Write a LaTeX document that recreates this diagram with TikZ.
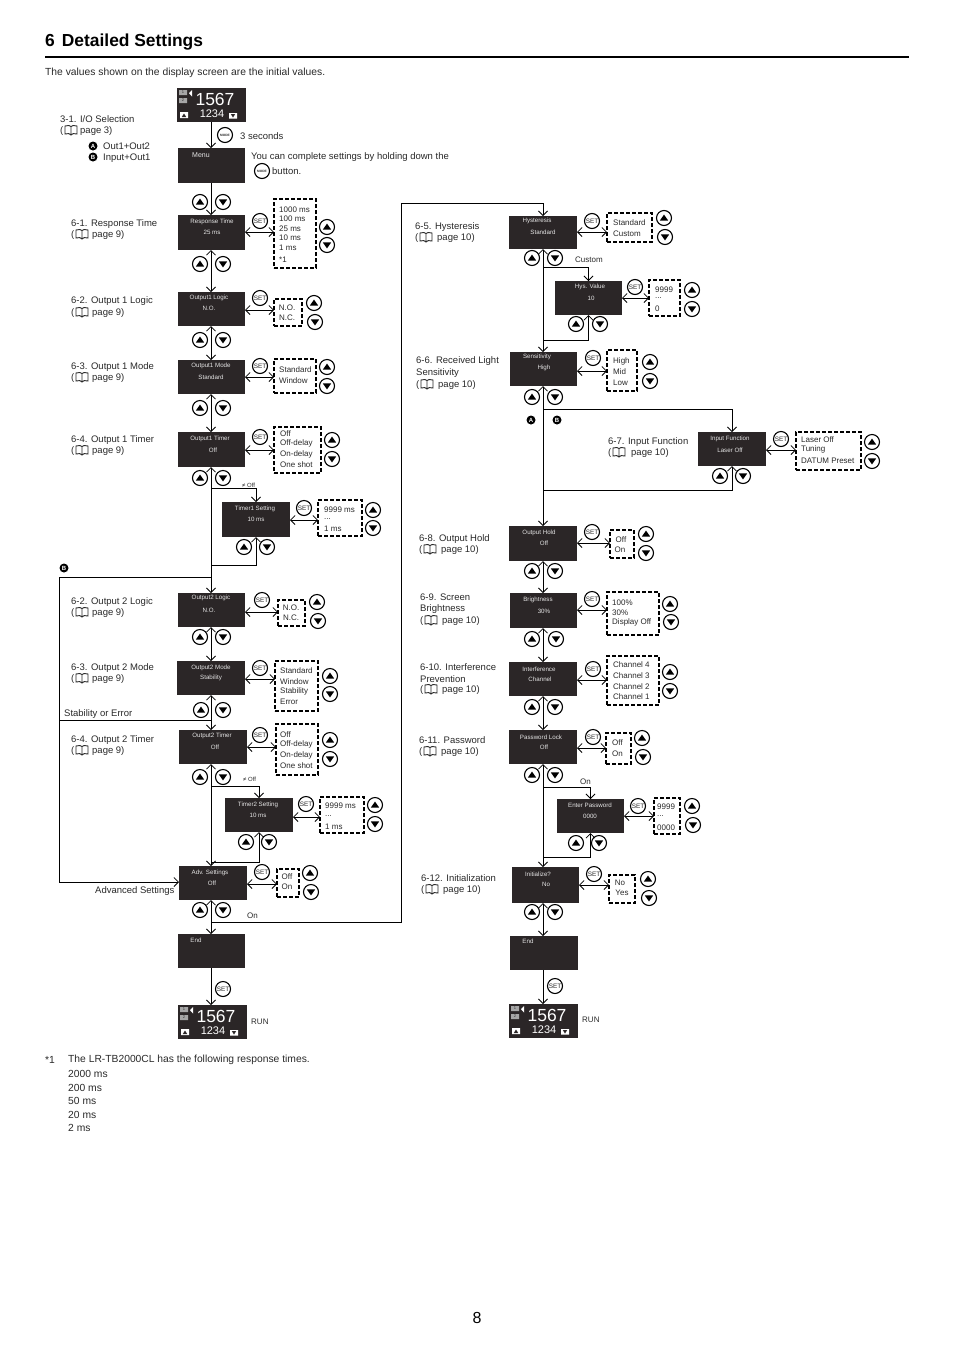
\documentclass[tikz,border=0pt]{standalone}
\usepackage{fontspec}
\setmainfont{Liberation Sans}
\usetikzlibrary{arrows.meta}
\definecolor{scrn}{HTML}{2B2627}
\definecolor{ink}{HTML}{2A2A2A}
\tikzset{
 screenbox/.style={fill=scrn,inner sep=0,outer sep=0},
 scrtxt/.style={text=white!90!black,font=\fontsize{6.2}{7}\selectfont,inner sep=0},
 lab/.style={anchor=west,inner sep=0,yshift=-.7pt,text=ink,font=\fontsize{9.5}{10}\selectfont},
 para/.style={anchor=west,inner sep=0,yshift=-.7pt,text=ink,font=\fontsize{10.3}{11}\selectfont},
 optt/.style={anchor=west,inner sep=0,yshift=-.5pt,text=ink,font=\fontsize{8}{9}\selectfont},
 optc/.style={anchor=center,inner sep=0,yshift=-.5pt,text=ink,font=\fontsize{8}{9}\selectfont},
 optbox/.style={draw=black,line width=1.2pt,dash pattern=on 4pt off 2pt,inner sep=0,outer sep=0},
 roundbtn/.style={circle,draw=black,line width=1.1pt,fill=white,minimum size=15pt,inner sep=0,text=ink,font=\fontsize{6.4}{7}\selectfont},
 modebtn/.style={roundbtn,font=\fontsize{3.2}{4}\selectfont\bfseries},
 arrowbtn/.style={roundbtn},
 conn/.style={draw=black,line width=.75pt},
 arr/.style={conn,-{Straight Barb[length=4.5pt,width=9pt]}},
 dbl/.style={conn,{Straight Barb[length=4.5pt,width=9pt]}-{Straight Barb[length=4.5pt,width=9pt]}},
 arb/.style={conn,{Straight Barb[length=4.5pt,width=9pt]}-},
 badge/.style={circle,fill=black,minimum size=9pt,inner sep=0,text=white,font=\fontsize{6}{6}\selectfont\bfseries}
}
\newcount\nn
\newcommand\tdots{.\kern0pt.\kern0pt.}
\newcommand\tl[3]{\global\advance\nn by 1 \node[lab] (t\the\nn) at (#1,#2) {#3};}
\newcommand\tp[3]{\global\advance\nn by 1 \node[para] (t\the\nn) at (#1,#2) {#3};}
\newcommand\tloc[3]{\global\advance\nn by 1 \node[optc] (t\the\nn) at (#1,#2) {#3};}
\newcommand\oline[3]{\global\advance\nn by 1 \node[optt] (t\the\nn) at (#1,#2) {#3};}
\newcommand\ot[2]{\foreach \yy/\tx in {#2}{\oline{#1}{\yy}{\tx}}}
% screen: name x1 y1 x2 y2 title tx ty value-coordinate
\newcommand\scr[9]{\node[screenbox,minimum width={(#4-#2)*1pt},minimum height={(#5-#3)*1pt}] (#1) at ({(#2+#4)/2},{(#3+#5)/2}) {};
 \node[scrtxt] (#1-t) at (#7,#8) {#6};
 \scrval{#1}{#9}}
\newcommand\scrval[2]{\node[scrtxt] (#1-v) at (#2) {\currval};}
\newcommand\setval[1]{\def\currval{#1}}
\newcommand\optbx[5]{\node[optbox,minimum width={(#4-#2)*1pt},minimum height={(#5-#3)*1pt}] (#1) at ({(#2+#4)/2},{(#3+#5)/2}) {};}
\newcommand\setb[3]{\node[roundbtn] (#1) at (#2,#3) {SET};}
\newcommand\modeb[3]{\node[modebtn] (#1) at (#2,#3) {MODE};}
\newcommand\upb[2]{\global\advance\nn by 1 \node[arrowbtn] (u\the\nn) at (#1,#2) {};
 \fill[black,shift={(#1,#2)}] (-4.2,2.6)--(4.2,2.6)--(0,-3.4)--cycle;}
\newcommand\dnb[2]{\global\advance\nn by 1 \node[arrowbtn] (d\the\nn) at (#1,#2) {};
 \fill[black,shift={(#1,#2)}] (-4.2,-2.6)--(4.2,-2.6)--(0,3.4)--cycle;}
\newcommand\ud[4]{\upb{#1}{#2}\dnb{#3}{#4}}
\newcommand\bookic[2]{\draw[ink,line width=.9pt,fill=white,shift={(#1,#2)}] (-6,-4)--(-6,4) .. controls (-3,3) and (-1,3.5) .. (0,5) .. controls (1,3.5) and (3,3) .. (6,4)--(6,-4) .. controls (3,-5) and (1,-4.5) .. (0,-3.5) .. controls (-1,-4.5) and (-3,-5) .. (-6,-4)--cycle (0,-3.5)--(0,5);}
% page reference line: x y text offset
\newcommand\pgl[4]{\tl{#1}{#2}{(}\bookic{#1+11}{#2}\tl{#1+#4}{#2}{#3}}
\newcommand\disp[3]{\node[screenbox,minimum width=68.5pt,minimum height=34pt] (#1) at ({#2+34.25},{#3+17}) {};
 \fill[black!35,shift={(#2,#3)}] (2,2)rectangle(10,7) (2,10)rectangle(10,15);
 \node[inner sep=0,text=black!80,font=\fontsize{4}{4}\selectfont] (#1-a) at ({#2+6},{#3+4.5}) {1};
 \node[inner sep=0,text=black!80,font=\fontsize{4}{4}\selectfont] (#1-b) at ({#2+6},{#3+12.5}) {2};
 \fill[white,shift={(#2,#3)}] (15,2)--(15,8.5)--(12,5.2)--cycle;
 \fill[white,shift={(#2,#3)}] (3,24)rectangle(11,30) (52,25)rectangle(60,30.5);
 \fill[scrn,shift={(#2,#3)}] (4.8,29)--(9.2,29)--(7,25.5)--cycle (53.8,26)--(58.2,26)--(56,29.5)--cycle;
 \node[inner sep=0,text=white,font=\fontsize{17.5}{18}\selectfont] (#1-c) at ({#2+38},{#3+11}) {1567};
 \node[inner sep=0,text=white,font=\fontsize{11}{11}\selectfont] (#1-d) at ({#2+35},{#3+25.5}) {1234};}
\newcommand\conR[4]{\draw[dbl] (#1.east |- 0,#3) -- (#2.west |- 0,#3);}
\begin{document}
\begin{tikzpicture}[x=1pt,y=-1pt]
\useasboundingbox (0,0) rectangle (954,1350);
\fill[white] (0,0) rectangle (954,1350);
\coordinate (L) at (211,0);
\coordinate (R) at (543,0);
% header
\node[anchor=west,inner sep=0,font=\fontsize{17.4}{18}\selectfont\bfseries] (head) at (45,42.5) {6\hspace{7pt}Detailed Settings};
\coordinate (ruleA) at (45,57); \coordinate (ruleB) at (909,57);
\draw[line width=1.4pt] (ruleA)--(ruleB);
\tp{45}{72}{The values shown on the display screen are the initial values.}
\node[inner sep=0,font=\fontsize{16}{18}\selectfont] (pg) at (477,1318) {8};
% ---- left top
\disp{d1}{177}{88}
\modeb{m1}{225}{135}
\tl{240}{135}{3 seconds}
\setval{} \scr{menu}{178}{148}{245}{183}{\fontsize{7}{8}\selectfont Menu}{201}{155}{201,155}
\tl{251}{156}{You can complete settings by holding down the}
\modeb{m2}{262}{171}
\tl{272}{170}{button.}
\tl{60}{118}{3-1. I/O Selection}
\pgl{60}{130}{page 3)}{20}
\node[badge] (ba1) at (93,146) {A}; \tl{103}{146}{Out1+Out2}
\node[badge] (bb1) at (93,157) {B}; \tl{103}{157}{Input+Out1}
\ud{200}{202}{223}{202}
% 6-1
\setval{25 ms}\scr{rt}{178}{215}{245}{250}{Response Time}{212}{222}{212,232}
\setb{s1}{260}{221}
\optbx{o1}{274}{199}{316}{268}
\ot{279}{209/1000 ms,218/100 ms,228/25 ms,237/10 ms,247/1 ms,259/*1}
\ud{327}{227}{327}{245}
\tl{71}{223}{6-1. Response Time}\pgl{71}{234}{page 9)}{21}
\conR{rt}{o1}{232}{}
\ud{200}{264}{223}{264}
% 6-2
\setval{N.O.}\scr{ol1}{178}{292}{245}{326}{Output1 Logic}{209}{298}{209,308}
\setb{s2}{260}{298}
\optbx{o2}{274}{299}{302}{326}
\tloc{287}{307}{N.O.}\tloc{287}{317}{N.C.}
\ud{314}{303}{315}{322}
\tl{71}{300}{6-2. Output 1 Logic}\pgl{71}{312}{page 9)}{21}
\conR{ol1}{o2}{310}{}
\ud{200}{340}{223}{340}
% 6-3
\setval{Standard}\scr{om1}{178}{360}{245}{394}{Output1 Mode}{211}{366}{211,377}
\setb{s3}{260}{366}
\optbx{o3}{274}{359}{316}{393}
\ot{279}{369/Standard,380/Window}
\ud{327}{367}{327}{386}
\tl{71}{366}{6-3. Output 1 Mode}\pgl{71}{377}{page 9)}{21}
\conR{om1}{o3}{377}{}
\ud{200}{408}{223}{408}
% 6-4
\setval{Off}\scr{ot1}{178}{432}{245}{467}{Output1 Timer}{210}{439}{213,450}
\setb{s4}{260}{437}
\optbx{o4}{274}{427}{321}{473}
\ot{280}{433/Off,443/Off-delay,454/On-delay,464/One shot}
\ud{332}{440}{332}{459}
\tl{71}{439}{6-4. Output 1 Timer}\pgl{71}{450}{page 9)}{21}
\conR{ot1}{o4}{450}{}
\ud{200}{478}{223}{478}
\node[optt,font=\fontsize{6}{6}\selectfont] (ne1) at (242,485) {≠ Off};
% timer1
\setval{10 ms}\scr{tm1}{222}{502}{290}{537}{Timer1 Setting}{255}{509}{256,519}
\setb{s5}{304}{508}
\optbx{o5}{318}{500}{362}{536}
\ot{324}{509/9999 ms,519/\tdots,528/1 ms}
\ud{373}{510}{373}{528}
\conR{tm1}{o5}{520}{}
\ud{244}{547}{267}{547}
% out2 logic
\setval{N.O.}\scr{ol2}{178}{593}{245}{627}{Output2 Logic}{211}{598}{209,610}
\setb{s6}{262}{600}
\optbx{o6}{278}{600}{305}{626}
\tloc{291}{607}{N.O.}\tloc{291}{617}{N.C.}
\ud{317}{602}{318}{621}
\tl{71}{601}{6-2. Output 2 Logic}\pgl{71}{612}{page 9)}{21}
\conR{ol2}{o6}{612}{}
\node[badge] (bb2) at (64,568) {B};
\ud{200}{637}{223}{637}
% out2 mode
\setval{Stability}\scr{om2}{177}{661}{245}{695}{Output2 Mode}{211}{668}{211,678}
\setb{s7}{260}{668}
\optbx{o7}{275}{661}{318}{711}
\ot{280}{670/Standard,681/Window,691/Stability,701/Error}
\ud{330}{676}{330}{694}
\tl{71}{667}{6-3. Output 2 Mode}\pgl{71}{678}{page 9)}{21}
\conR{om2}{o7}{679}{}
\ud{201}{710}{223}{710}
\tl{64}{713}{Stability or Error}
% out2 timer
\setval{Off}\scr{ot2}{179}{730}{247}{764}{Output2 Timer}{212}{736}{215,747}
\setb{s8}{260}{735}
\optbx{o8}{276}{724}{318}{775}
\ot{280}{734/Off,744/Off-delay,755/On-delay,765/One shot}
\ud{330}{740}{330}{759}
\tl{71}{739}{6-4. Output 2 Timer}\pgl{71}{750}{page 9)}{21}
\conR{ot2}{o8}{747}{}
\ud{200}{777}{223}{777}
\node[optt,font=\fontsize{6}{6}\selectfont] (ne2) at (243,779) {≠ Off};
% timer2
\setval{10 ms}\scr{tm2}{225}{798}{293}{832}{Timer2 Setting}{258}{805}{258,815}
\setb{s9}{306}{804}
\optbx{o9}{320}{797}{364}{833}
\ot{325}{805/9999 ms,816/\tdots,826/1 ms}
\ud{375}{805}{375}{824}
\conR{tm2}{o9}{817}{}
\ud{246}{842}{269}{842}
% adv
\setval{Off}\scr{adv}{179}{866}{247}{900}{Adv. Settings}{210}{873}{212,883}
\setb{s10}{262}{872}
\optbx{o10}{277}{869}{299}{897}
\tloc{287}{876}{Off}\tloc{287}{886}{On}
\ud{310}{873}{311}{892}
\conR{adv}{o10}{884}{}
\tl{95}{890}{Advanced Settings}
\ud{200}{910}{223}{910}
\oline{247}{915}{On}
% end
\setval{}\scr{end1}{178}{934}{245}{968}{End}{196}{940}{196,940}
\setb{s11}{223}{989}
\disp{d2}{178}{1005}
\oline{251}{1021}{RUN}
% footnote
\tp{45}{1059}{*1}
\tp{68}{1059}{The LR-TB2000CL has the following response times.}
\tp{68}{1073}{2000 ms}\tp{68}{1087}{200 ms}\tp{68}{1100}{50 ms}\tp{68}{1114}{20 ms}\tp{68}{1127}{2 ms}
% ---- right column
\setval{Standard}\scr{hy}{509}{216}{577}{249}{Hysteresis}{537}{221}{543,232}
\setb{r1}{592}{221}
\optbx{p1}{607}{213}{652}{242}
\ot{613}{222/Standard,233/Custom}
\ud{664}{218}{665}{237}
\tl{415}{226}{6-5. Hysteresis}\pgl{415}{237}{page 10)}{22}
\conR{hy}{p1}{232}{}
\ud{532}{258}{555}{258}
\oline{575}{259}{Custom}
\setval{10}\scr{hv}{555}{281}{622}{315}{Hys. Value}{590}{287}{591,298}
\setb{r2}{635}{287}
\optbx{p2}{649}{280}{680}{316}
\ot{655}{289/9999,298/\tdots,308/0}
\ud{692}{290}{692}{309}
\conR{hv}{p2}{298}{}
\ud{576}{324}{600}{324}
\setval{High}\scr{sn}{510}{352}{577}{386}{Sensitivity}{537}{357}{544,368}
\setb{r3}{593}{358}
\optbx{p3}{607}{350}{637}{391}
\ot{613}{361/High,371/Mid,382/Low}
\ud{650}{362}{650}{381}
\tl{416}{360}{6-6. Received Light}\tl{416}{372}{Sensitivity}\pgl{416}{384}{page 10)}{22}
\conR{sn}{p3}{371}{}
\ud{532}{397}{555}{397}
\node[badge] (ba2) at (531,420) {A};
\node[badge] (bb3) at (557,420) {B};
\setval{Laser Off}\scr{inf}{698}{432}{766}{466}{Input Function}{730}{439}{730,450}
\setb{r4}{781}{439}
\optbx{p4}{796}{432}{861}{470}
\ot{801}{439/Laser Off,449/Tuning,460/DATUM Preset}
\ud{872}{442}{872}{461}
\tl{608}{441}{6-7. Input Function}\pgl{608}{452}{page 10)}{23}
\conR{inf}{p4}{450}{}
\ud{720}{476}{743}{476}
\setval{Off}\scr{oh}{509}{526}{577}{561}{Output Hold}{539}{533}{544,543}
\setb{r5}{592}{532}
\optbx{p5}{610}{530}{634}{558}
\tloc{621}{539}{Off}\tloc{620}{549}{On}
\ud{646}{534}{646}{553}
\tl{419}{538}{6-8. Output Hold}\pgl{419}{549}{page 10)}{22}
\conR{oh}{p5}{543}{}
\ud{532}{571}{555}{571}
\setval{30\%}\scr{br}{510}{593}{577}{628}{Brightness}{538}{600}{544,611}
\setb{r6}{592}{599}
\optbx{p6}{607}{592}{659}{635}
\ot{612}{602/100\%,612/30\%,622/Display Off}
\ud{670}{604}{671}{622}
\tl{420}{597}{6-9. Screen}\tl{420}{608}{Brightness}\pgl{420}{620}{page 10)}{22}
\conR{br}{p6}{610}{}
\ud{532}{639}{556}{639}
\setval{Channel}\scr{itf}{509}{662}{577}{696}{Interference}{539}{669}{540,679}
\setb{r7}{593}{669}
\optbx{p7}{607}{656}{659}{705}
\ot{613}{664/Channel 4,675/Channel 3,686/Channel 2,696/Channel 1}
\ud{670}{672}{670}{691}
\tl{420}{666}{6-10. Interference}\tl{420}{678}{Prevention}\pgl{420}{689}{page 10)}{22}
\conR{itf}{p7}{680}{}
\ud{532}{707}{555}{707}
\setval{Off}\scr{pw}{509}{730}{577}{764}{Password Lock}{541}{737}{544,747}
\setb{r8}{593}{737}
\optbx{p8}{606}{733}{631}{764}
\ot{612}{742/Off,753/On}
\ud{642}{738}{643}{757}
\tl{419}{739}{6-11. Password}\pgl{419}{751}{page 10)}{22}
\conR{pw}{p8}{748}{}
\ud{532}{775}{555}{775}
\oline{580}{781}{On}
\setval{0000}\scr{ep}{557}{799}{624}{833}{Enter Password}{590}{805}{590,816}
\setb{r9}{638}{806}
\optbx{p9}{654}{798}{680}{834}
\ot{657}{806/9999,816/\tdots,827/0000}
\ud{692}{806}{693}{825}
\conR{ep}{p9}{816}{}
\ud{576}{843}{599}{843}
\setval{No}\scr{ini}{512}{867}{579}{903}{Initialize?}{538}{874}{546,884}
\setb{r10}{594}{874}
\optbx{p10}{609}{875}{635}{903}
\tloc{620}{882}{No}\tloc{622}{892}{Yes}
\ud{648}{879}{649}{898}
\tl{421}{877}{6-12. Initialization}\pgl{421}{889}{page 10)}{22}
\conR{ini}{p10}{885}{}
\ud{532}{912}{555}{912}
\setval{}\scr{end2}{510}{936}{578}{970}{End}{528}{941}{528,941}
\setb{r11}{555}{986}
\disp{d3}{509}{1004}
\oline{582}{1019}{RUN}
% ---- connectors, left trunk
\draw[arr] (d1.south -| L)--(menu.north -| L);
\draw[arr] (menu.south -| L)--(rt.north -| L);
\draw[dbl] (rt.south -| L)--(ol1.north -| L);
\draw[dbl] (ol1.south -| L)--(om1.north -| L);
\draw[dbl] (om1.south -| L)--(ot1.north -| L);
\draw[dbl] (ot1.south -| L)--(ol2.north -| L);
\coordinate (j1) at (211,488); \coordinate (j2) at (211,565); \coordinate (j3) at (211,577);
\draw[arr] (j1)-|(tm1.north);
\draw[arb] (tm1.south)|-(j2);
\coordinate (bc1) at (59,577); \coordinate (bc2) at (59,882);
\draw[conn] (j3)--(bc1)--(bc2);
\draw[arr] (bc2)--(bc2 -| adv.west);
\draw[dbl] (ol2.south -| L)--(om2.north -| L);
\draw[dbl] (om2.south -| L)--(ot2.north -| L);
\coordinate (j4) at (211,720); \coordinate (bc3) at (59,720);
\draw[conn] (j4)--(bc3);
\draw[dbl] (ot2.south -| L)--(adv.north -| L);
\coordinate (j5) at (211,786); \coordinate (j6) at (211,862);
\draw[arr] (j5)-|(tm2.north);
\draw[arb] (tm2.south)|-(j6);
\draw[dbl] (adv.south -| L)--(end1.north -| L);
\coordinate (j7) at (211,922); \coordinate (c1) at (401,922); \coordinate (c2) at (401,203);
\draw[conn] (j7)--(c1)--(c2)--(c2 -| R);
\draw[arr] (c2 -| R)--(hy.north -| R);
\draw[arr] (end1.south -| L)--(d2.north -| L);
% right trunk
\draw[dbl] (hy.south -| R)--(sn.north -| R);
\coordinate (k1) at (543,267); \coordinate (k2) at (543,340);
\draw[arr] (k1)-|(hv.north);
\draw[arb] (hv.south)|-(k2);
\draw[dbl] (sn.south -| R)--(oh.north -| R);
\coordinate (k3) at (543,409); \coordinate (k4) at (543,490);
\draw[arr] (k3)-|(inf.north);
\draw[arb] (inf.south)|-(k4);
\draw[dbl] (oh.south -| R)--(br.north -| R);
\draw[dbl] (br.south -| R)--(itf.north -| R);
\draw[dbl] (itf.south -| R)--(pw.north -| R);
\draw[dbl] (pw.south -| R)--(ini.north -| R);
\coordinate (k5) at (543,787); \coordinate (k6) at (543,857);
\draw[arr] (k5)-|(ep.north);
\draw[arb] (ep.south)|-(k6);
\draw[dbl] (ini.south -| R)--(end2.north -| R);
\draw[arr] (end2.south -| R)--(d3.north -| R);
\end{tikzpicture}
\end{document}
